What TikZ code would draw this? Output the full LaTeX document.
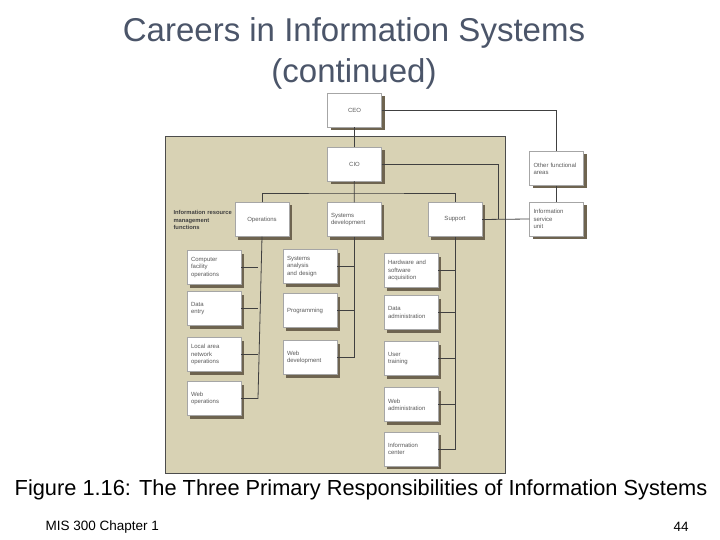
\documentclass[tikz,border=0pt]{standalone}
\usepackage{fontspec}
\setmainfont{Liberation Sans}
\usetikzlibrary{positioning,shadows}
\definecolor{paneltan}{RGB}{216,210,180}
\definecolor{titleblue}{RGB}{75,85,105}
\definecolor{shadowgray}{RGB}{110,100,80}
\begin{document}
\begin{tikzpicture}[x=1pt,y=-1pt,
    unit/.style={rectangle, draw=gray!70, fill=white, minimum width=54pt,
        minimum height=34pt, text width=46pt, align=left, inner sep=2pt,
        font=\fontsize{6}{7.2}\selectfont, text=gray!70!black,
        drop shadow={shadow xshift=3pt, shadow yshift=-3pt, fill=shadowgray, opacity=1}},
    centred/.style={unit, align=center},
    link/.style={draw=black!75, line width=0.8pt}
]
\useasboundingbox (0,0) rectangle (720,540);
\node (Title) at (354,53) [align=center, text=titleblue,
    font=\fontsize{33}{41}\selectfont] {Careers in Information Systems\\(continued)};
\fill[paneltan] (165,136) rectangle (505,473);
\draw[gray!60!black, line width=0.6pt] (165,136) rectangle (505,473);
% top of the chart
\node (CEO) at (354.5,110) [centred] {CEO};
\node (CIO) at (354.5,164) [centred] {CIO};
\node (Other) at (556.5,168.5) [unit] {Other functional\\areas};
\node (ISU) at (556.5,219) [unit] {Information\\service\\unit};
\node (Ops) at (262,219.5) [centred] {Operations};
\node (SysDev) at (354,219.5) [unit] {Systems\\development};
\node (Support) at (455,219.5) [centred] {Support};
\node (Irm) at (170,220) [anchor=west, align=left, text width=64pt,
    font=\bfseries\fontsize{5.8}{7.5}\selectfont, text=black!75] {Information resource\\management\\functions};
% operations column
\node (CompFac) at (214,267.5) [unit] {Computer\\facility\\operations};
\node (DataEntry) at (214,308.5) [unit] {Data\\entry};
\node (Lan) at (214,354.5) [unit] {Local area\\network\\operations};
\node (WebOps) at (214,398.5) [unit] {Web\\operations};
% systems development column
\node (Analysis) at (310,266.5) [unit] {Systems\\analysis\\and design};
\node (Prog) at (310,310.5) [unit] {Programming};
\node (WebDev) at (310,357.5) [unit] {Web\\development};
% support column
\node (Hardware) at (411,270.5) [unit] {Hardware and\\software\\acquisition};
\node (DataAdmin) at (411,312.5) [unit] {Data\\administration};
\node (Training) at (411,358.5) [unit] {User\\training};
\node (WebAdmin) at (411,404.5) [unit] {Web\\administration};
\node (InfoCentre) at (411,449) [unit] {Information\\center};
% connectors
\draw[link] (CEO) -- (CIO);
\draw[link] (CEO.east) -| (Other.north);
\draw[link] (Other) -- (ISU);
\draw[link] (CIO) -- (SysDev);
\draw[link] (Ops.north) |- (354,193) -| (Support.north);
\draw[link] (CIO.east) -| (498,219);
\draw[link] (Support.east) -- (ISU.west);
\draw[link] (Ops.south) -- (258,398.5) -- (WebOps.east);
\foreach \n in {CompFac,DataEntry,Lan} \draw[link] (\n.east) -- (258,0 |- \n.east);
\draw[link] (SysDev.south) -- (354,357.5) -- (WebDev.east);
\foreach \n in {Analysis,Prog} \draw[link] (\n.east) -- (354,0 |- \n.east);
\draw[link] (Support.south) -- (455,449) -- (InfoCentre.east);
\foreach \n in {Hardware,DataAdmin,Training,WebAdmin} \draw[link] (\n.east) -- (455,0 |- \n.east);
% caption and footer
\node (Caption) at (361,490) [font=\fontsize{21.8}{24}\selectfont] {Figure 1.16: The Three Primary Responsibilities of Information Systems};
\node (Footer) at (42,527) [anchor=west, font=\fontsize{13.5}{16}\selectfont] {MIS 300 Chapter 1};
\node (PageNo) at (681,527) [font=\fontsize{13.5}{16}\selectfont] {44};
\end{tikzpicture}
\end{document}
